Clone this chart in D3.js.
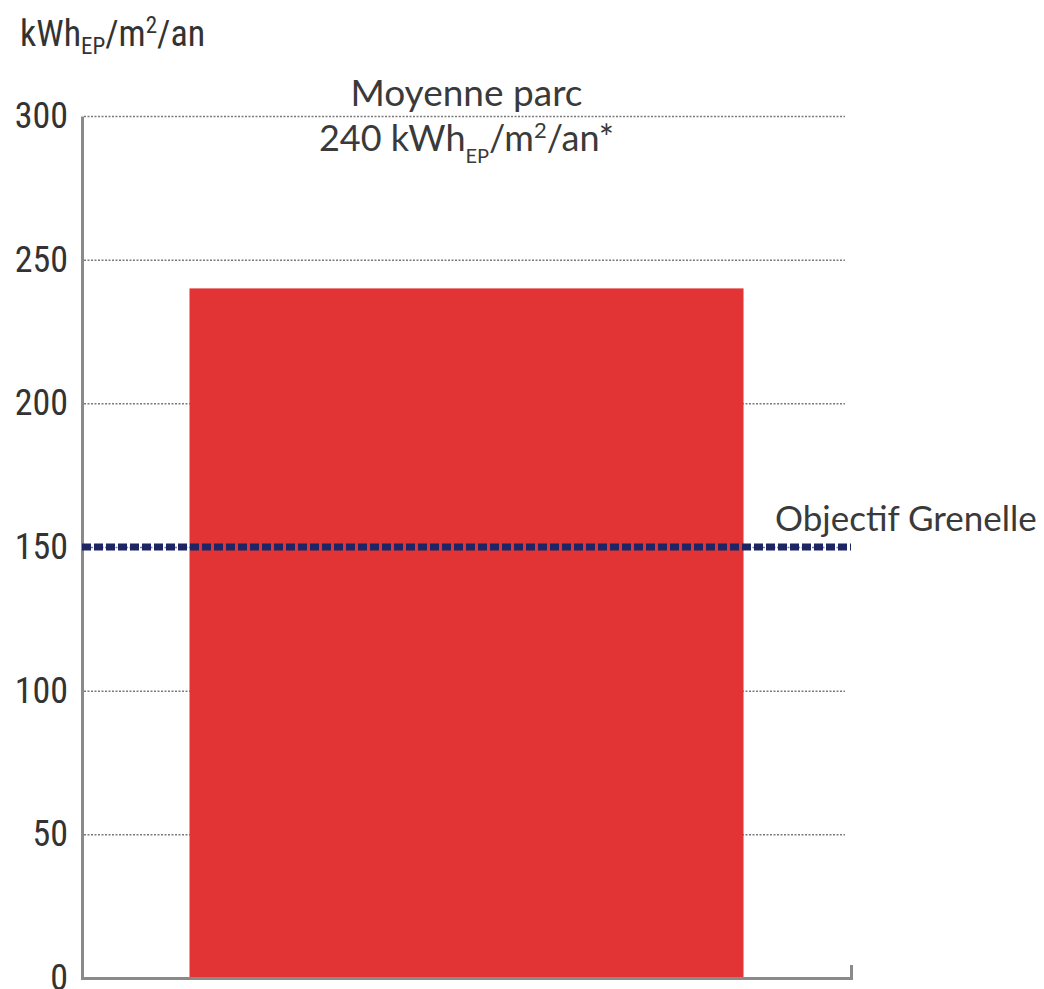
<!DOCTYPE html>
<html>
<head>
<meta charset="utf-8">
<script src="https://cdn.jsdelivr.net/npm/d3@7"></script>
<style>
  html, body { margin: 0; padding: 0; background: #fff; }
  svg { display: block; }
</style>
</head>
<body>
<svg id="chart"></svg>
<script>
// donnees
const categories = ["Moyenne parc"];
const values = [240];
const targetLabels = ["Objectif Grenelle"];
const targetValues = [150];
const yTicks = [0, 50, 100, 150, 200, 250, 300];

const width = 1044;
const height = 989;
const MARGINS = { top: 116, right: 193, bottom: 11, left: 82 };

const narrow = '"Liberation Sans Narrow", "Roboto Condensed", Arial, sans-serif';
const humanist = 'Lato, "Open Sans", sans-serif';

const svg = d3.select('#chart')
  .attr('width', width)
  .attr('height', height);

const x = d3.scaleBand() // une seule barre, centree
  .domain(categories)
  .range([MARGINS.left, width - MARGINS.right])
  .paddingInner(0)
  .paddingOuter(0.194);

const y = d3.scaleLinear()
  .domain([0, 300])
  .range([height - MARGINS.bottom, MARGINS.top]);

// lignes de grille pointillees
svg.append('g')
  .attr('class', 'grid')
  .attr('transform', `translate(${MARGINS.left + 2},0)`)
  .call(d3.axisLeft(y).tickValues(yTicks.filter(d => d > 0))
    .tickSize(-(x.range()[1] - MARGINS.left - 8)).tickFormat(''))
  .call(g => g.select('.domain').remove())
  .call(g => g.selectAll('line')
    .attr('stroke', '#7a7a7a')
    .attr('stroke-width', 1.5)
    .attr('stroke-dasharray', '2,1.5'));

// barre
svg.append('g')
  .attr('class', 'bars')
  .selectAll('rect')
  .data(values)
  .enter()
  .append('rect')
  .attr('x', (d, i) => x(categories[i]))
  .attr('y', d => y(d))
  .attr('width', x.bandwidth())
  .attr('height', d => y(0) - y(d))
  .attr('fill', '#e23434');

// axe vertical
svg.append('g')
  .attr('class', 'y-axis')
  .attr('transform', `translate(${MARGINS.left},0)`)
  .call(d3.axisLeft(y).tickValues(yTicks).tickSize(0).tickSizeOuter(0).tickPadding(14))
  .call(g => g.select('.domain').attr('stroke', '#8a8a8a').attr('stroke-width', 3))
  .call(g => g.selectAll('text')
    .attr('font-family', narrow)
    .attr('font-size', 36)
    .attr('fill', '#333'));

// axe horizontal
svg.append('g')
  .attr('class', 'x-axis')
  .attr('transform', `translate(0,${y(0)})`)
  .call(d3.axisBottom(x).tickValues([]).tickSizeOuter(-13))
  .call(g => g.select('.domain').attr('stroke', '#8a8a8a').attr('stroke-width', 3));

// objectif (ligne tiretee)
svg.append('g')
  .attr('class', 'target')
  .selectAll('line')
  .data(targetValues)
  .enter()
  .append('line')
  .attr('x1', MARGINS.left)
  .attr('x2', x.range()[1])
  .attr('y1', d => y(d))
  .attr('y2', d => y(d))
  .attr('stroke', '#1d2565')
  .attr('stroke-width', 7)
  .attr('stroke-dasharray', '9,3');

svg.append('g')
  .selectAll('text')
  .data(targetValues)
  .enter()
  .append('text')
  .attr('x', x.range()[1] - 76)
  .attr('y', d => y(d) - 16)
  .attr('font-family', humanist)
  .attr('font-size', 35)
  .attr('fill', '#3a3a3a')
  .text((d, i) => targetLabels[i]);

// unite en haut a gauche
const unit = svg.append('text')
  .attr('x', 20)
  .attr('y', 46)
  .attr('font-family', narrow)
  .attr('font-size', 36)
  .attr('fill', '#333');
unit.append('tspan').text('kWh');
unit.append('tspan').attr('font-size', 23).attr('dy', 8).text('EP');
unit.append('tspan').attr('dy', -8).text('/m');
unit.append('tspan').attr('font-size', 23).attr('dy', -13).text('2');
unit.append('tspan').attr('dy', 13).text('/an');

// etiquette de la barre
const cx = x(categories[0]) + x.bandwidth() / 2;
svg.append('text')
  .attr('x', cx)
  .attr('y', 106)
  .attr('text-anchor', 'middle')
  .attr('font-family', humanist)
  .attr('font-size', 37)
  .attr('fill', '#3a3a3a')
  .text(categories[0]);

const valLabel = svg.append('text')
  .attr('x', cx)
  .attr('y', 151)
  .attr('text-anchor', 'middle')
  .attr('font-family', humanist)
  .attr('font-size', 36)
  .attr('fill', '#3a3a3a');
valLabel.append('tspan').text(`${values[0]} kWh`);
valLabel.append('tspan').attr('font-size', 20).attr('dy', 12).text('EP');
valLabel.append('tspan').attr('dy', -12).text('/m');
valLabel.append('tspan').attr('font-size', 22).attr('dy', -13).text('2');
valLabel.append('tspan').attr('dy', 13).text('/an*');
</script>
</body>
</html>
